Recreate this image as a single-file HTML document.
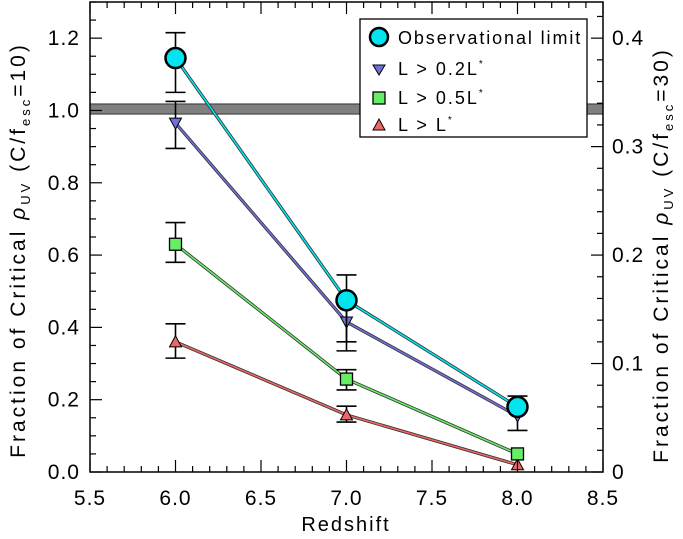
<!DOCTYPE html>
<html><head><meta charset="utf-8">
<style>
body{margin:0;background:#fff;}
svg{display:block;font-family:"Liberation Sans","DejaVu Sans",sans-serif;}
</style></head>
<body>
<svg id="chart" width="683" height="539" viewBox="0 0 683 539" xmlns="http://www.w3.org/2000/svg">
<rect x="0" y="0" width="683" height="539" fill="#fff"/>
<g id="band"></g>
<g id="series"></g>
<g id="axes"></g>
<text x="346" y="531" font-size="20" text-anchor="middle" letter-spacing="2">Redshift</text>
<text transform="translate(25,250) rotate(-90)" font-size="21" text-anchor="middle" letter-spacing="3">Fraction of Critical <tspan font-style="italic">ρ</tspan><tspan font-size="13" dy="5">UV</tspan><tspan dy="-5"> (C/f</tspan><tspan font-size="13" dy="5">esc</tspan><tspan dy="-5">=10)</tspan></text>
<text transform="translate(668,255) rotate(-90)" font-size="21" text-anchor="middle" letter-spacing="3">Fraction of Critical <tspan font-style="italic">ρ</tspan><tspan font-size="13" dy="5">UV</tspan><tspan dy="-5"> (C/f</tspan><tspan font-size="13" dy="5">esc</tspan><tspan dy="-5">=30)</tspan></text>
<g>
<rect x="360" y="19" width="227" height="118" fill="#fff" stroke="#000" stroke-width="1.3"/>
<g><circle cx="379" cy="37" r="9" fill="#00e5ee" stroke="#000" stroke-width="2.5"/><text x="398" y="44" font-size="18" letter-spacing="1.9">Observational limit</text></g>
<g><path d="M373,65 L385,65 L379,75 Z" fill="#7070dd" stroke="#000" stroke-width="1"/><text x="398" y="75" font-size="18" letter-spacing="2">L &gt; 0.2L<tspan font-size="10" dy="-8">*</tspan></text></g>
<g><rect x="373" y="92" width="12" height="12" fill="#66ee66" stroke="#000" stroke-width="1.3"/><text x="398" y="104" font-size="18" letter-spacing="2">L &gt; 0.5L<tspan font-size="10" dy="-8">*</tspan></text></g>
<g><path d="M373,130 L385,130 L379,119 Z" fill="#ee6666" stroke="#000" stroke-width="1"/><text x="398" y="131" font-size="18" letter-spacing="2">L &gt; L<tspan font-size="10" dy="-8">*</tspan></text></g>
</g>
</svg>
<script>
const redshifts=[6.0,7.0,8.0];
const obsVals=[1.145,0.475,0.18];
const obsLo=[1.05,0.36,0.173];
const obsHi=[1.215,0.545,0.21];
const l02Vals=[0.965,0.415,0.155];
const l02Lo=[0.895,0.335,0.115];
const l02Hi=[1.025,0.47,0.173];
const l05Vals=[0.63,0.257,0.05];
const l05Lo=[0.58,0.227,0.05];
const l05Hi=[0.69,0.283,0.05];
const l1Vals=[0.36,0.158,0.02];
const l1Lo=[0.315,0.138,0.02];
const l1Hi=[0.41,0.182,0.02];
const xTicks=[5.5,6.0,6.5,7.0,7.5,8.0,8.5];
const yTicksLeft=[0.0,0.2,0.4,0.6,0.8,1.0,1.2];
const yTicksRight=[0,0.1,0.2,0.3,0.4];
const bandRange=[0.99,1.018];

const NS="http://www.w3.org/2000/svg";
const L=90,R=603,T=2,B=472;
const xMin=5.5,xMax=8.5,yMin=0,yMax=1.3;
const xs=v=>L+(v-xMin)/(xMax-xMin)*(R-L);
const ys=v=>B-(v-yMin)/(yMax-yMin)*(B-T);
const ysR=v=>ys(v*3);
function mk(tag,attrs,parent){const e=document.createElementNS(NS,tag);for(const k in attrs)e.setAttribute(k,attrs[k]);parent.appendChild(e);return e;}

const band=document.getElementById('band');
const br=mk('rect',{x:L,y:ys(bandRange[1]),width:R-L,height:ys(bandRange[0])-ys(bandRange[1]),fill:'#808080',stroke:'#333','stroke-width':1},band);



const axes=document.getElementById('axes');
const frame=mk('rect',{x:L,y:T,width:R-L,height:B-T,fill:'none',stroke:'#000','stroke-width':1.5},axes);


for(let i=0;i<=30;i++){const v=xMin+i*0.1;const x=xs(v);const major=(i%5===0);const len=major?12:6;
 mk('line',{x1:x,y1:B,x2:x,y2:B-len,stroke:'#000','stroke-width':1.2},axes);
 mk('line',{x1:x,y1:T,x2:x,y2:T+len,stroke:'#000','stroke-width':1.2},axes);}
xTicks.forEach(v=>{const t=mk('text',{x:xs(v),y:505,'font-size':21,'text-anchor':'middle','letter-spacing':1},axes);t.textContent=v.toFixed(1);
 
 });
for(let i=0;i<=26;i++){const v=i*0.05;const y=ys(v);const major=(i%4===0);const len=major?12:6;
 mk('line',{x1:L,y1:y,x2:L+len,y2:y,stroke:'#000','stroke-width':1.2},axes);}
yTicksLeft.forEach(v=>{const t=mk('text',{x:80,y:ys(v)+7,'font-size':21,'text-anchor':'end','letter-spacing':1},axes);t.textContent=v.toFixed(1);
 
 });
for(let i=0;i<=21;i++){const v=i*0.02;const y=ysR(v);if(y<T)break;const major=(i%5===0);const len=major?12:6;
 mk('line',{x1:R,y1:y,x2:R-len,y2:y,stroke:'#000','stroke-width':1.2},axes);}
yTicksRight.forEach(v=>{const t=mk('text',{x:612,y:ysR(v)+7,'font-size':21,'text-anchor':'start','letter-spacing':1},axes);t.textContent=(v===0?'0':v.toFixed(1));
 
 });

const series=document.getElementById('series');
function drawSeries(name,vals,lo,hi,color,marker){
 const g=mk('g',{},series);
 
 
 const pts=redshifts.map((z,i)=>xs(z)+','+ys(vals[i])).join(' ');
 mk('polyline',{points:pts,fill:'none',stroke:'#333','stroke-width':3.2},g);
 mk('polyline',{points:pts,fill:'none',stroke:color,'stroke-width':1.6},g);
 redshifts.forEach((z,i)=>{const x=xs(z);
  if(hi[i]-lo[i]>0.001){
   const eb=mk('path',{d:`M${x},${ys(lo[i])}V${ys(hi[i])}M${x-10},${ys(lo[i])}H${x+10}M${x-10},${ys(hi[i])}H${x+10}`,stroke:'#000','stroke-width':1.6,fill:'none'},g);
   
   }
  const y=ys(vals[i]);let m;
  if(marker==='circle')m=mk('circle',{cx:x,cy:y,r:10,fill:color,stroke:'#000','stroke-width':2.5},g);
  else if(marker==='down')m=mk('path',{d:`M${x-6},${y-5}L${x+6},${y-5}L${x},${y+6}Z`,fill:color,stroke:'#000','stroke-width':1},g);
  else if(marker==='square')m=mk('rect',{x:x-6,y:y-6,width:12,height:12,fill:color,stroke:'#000','stroke-width':1.3},g);
  else m=mk('path',{d:`M${x-6},${y+5}L${x+6},${y+5}L${x},${y-6}Z`,fill:color,stroke:'#000','stroke-width':1},g);
  
  
 });
}
drawSeries('l1',l1Vals,l1Lo,l1Hi,'#ee6666','up');
drawSeries('l05',l05Vals,l05Lo,l05Hi,'#66ee66','square');
drawSeries('l02',l02Vals,l02Lo,l02Hi,'#7070dd','down');
drawSeries('obs',obsVals,obsLo,obsHi,'#00e5ee','circle');
</script>
</body></html>
